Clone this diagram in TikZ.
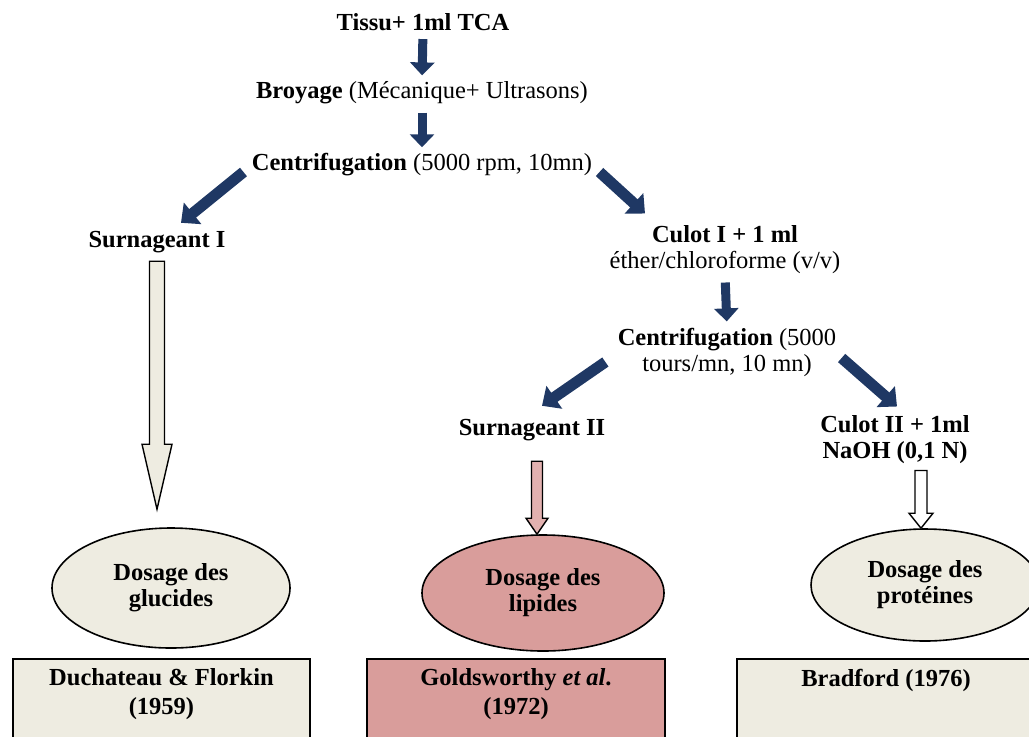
\documentclass[tikz,border=0pt]{standalone}
\usepackage{fontspec}
\setmainfont{Liberation Serif}
\usetikzlibrary{arrows.meta, calc, shapes.geometric}
\definecolor{navy}{HTML}{1F3864}
\definecolor{beige}{HTML}{EEECE1}
\definecolor{rose}{HTML}{D99D9B}
\definecolor{roselight}{HTML}{E2B1B0}

\tikzset{
  lbl/.style={inner sep=0pt, align=center, font=\fontsize{12.25}{13}\selectfont},
  down/.style={navy, line width=4.5pt, shorten <=4pt, shorten >=3pt,
    -{Triangle[width=12pt, length=6.5pt]}},
  diag/.style={navy, line width=5.5pt, -{Triangle[width=13.5pt, length=7.5pt]}},
  dosage/.style={ellipse, draw, line width=0.8pt, lbl, inner sep=0pt},
  refbox/.style={draw, line width=0.8pt, anchor=north, inner xsep=0pt, inner ysep=5pt,
    font=\fontsize{12.25}{14.5}\selectfont\bfseries},
  hollow/.style n args={3}{draw, line width=0.7pt, fill=#1,
    to path={($(\tikztostart)+(-#2,0)$) -- ($(\tikztotarget)+(-#2,-#3)$)
      -- ($(\tikztotarget)+(-2*#2,-#3)$) -- (\tikztotarget)
      -- ($(\tikztotarget)+(2*#2,-#3)$) -- ($(\tikztotarget)+(#2,-#3)$)
      -- ($(\tikztostart)+(#2,0)$) -- cycle}},
}

\begin{document}
\begin{tikzpicture}[x=0.5pt, y=-0.5pt]
  \useasboundingbox (0,0) rectangle (1029,736);

  % first steps
  \node[lbl] (t1) at (423,22) {\textbf{Tissu+ 1ml TCA}};
  \node[lbl] (b1) at (422,93) {\textbf{Broyage} (Mécanique+ Ultrasons)};
  \node[lbl] (c1) at (422,165) {\textbf{Centrifugation} (5000 rpm, 10mn)};
  \node[lbl] (s1) at (157,242) {\textbf{Surnageant I}};
  \node[lbl] (cu1) at (725,250) {\textbf{Culot I + 1 ml}\\éther/chloroforme (v/v)};
  \node[lbl] (c2) at (727,352) {\textbf{Centrifugation} (5000\\tours/mn, 10 mn)};
  \node[lbl] (s2) at (532,430) {\textbf{Surnageant II}};
  \node[lbl] (cu2) at (895,440) {\textbf{Culot II + 1ml}\\\textbf{NaOH (0,1 N)}};

  % dosages
  \node[dosage, fill=beige, minimum width=119pt, minimum height=60pt] (e1) at (171,588)
    {\textbf{Dosage des}\\\textbf{glucides}};
  \node[dosage, fill=rose, minimum width=121pt, minimum height=58pt] (e2) at (543,593)
    {\textbf{Dosage des}\\\textbf{lipides}};
  \node[dosage, fill=beige, minimum width=114pt, minimum height=56pt] (e3) at (925,585)
    {\textbf{Dosage des}\\\textbf{protéines}};

  % references
  \node[refbox, fill=beige, minimum width=148.5pt] (r1) at (161.5,658)
    {\parbox[t][45pt][t]{140pt}{\centering Duchateau \& Florkin\\(1959)}};
  \node[refbox, fill=rose, minimum width=149pt] (r2) at (516,658)
    {\parbox[t][45pt][t]{140pt}{\centering Goldsworthy \textit{et al}.\\(1972)}};
  \node[refbox, fill=beige, minimum width=149pt] (r3) at (886,658)
    {\parbox[t][45pt][t]{140pt}{\centering Bradford (1976)}};

  % arrows
  \draw[down] (t1.south) -- (b1.north);
  \draw[down] (b1.south) -- (c1.north);
  \draw[diag] ($(c1.west)+(-8,7)$) -- ($(s1.north)+(24,-8)$);
  \draw[diag] ($(c1.east)+(7,7)$) -- ($(cu1.north)+(-80,-12)$);
  \draw[down] (cu1.south) -- (c2.north);
  \draw[diag] ($(c2.west)+(-12,10)$) -- ($(s2.north)+(10,-13)$);
  \draw[diag] ($(c2.east)+(5,6)$) -- ($(cu2.north)+(2,-9)$);

  \draw[hollow={beige}{7.5}{65}] ($(s1.south)+(0,8)$) to ($(s1.south |- e1.north)+(0,-18)$);
  \draw[hollow={roselight}{5.5}{16}] ($(s2.south)+(5,20)$) to ($(s2.south |- e2.north)+(5,0)$);
  \draw[hollow={white}{6}{15}] ($(cu2.south)+(26,6)$) to ($(cu2.south |- e3.north)+(26,0)$);
\end{tikzpicture}
\end{document}
